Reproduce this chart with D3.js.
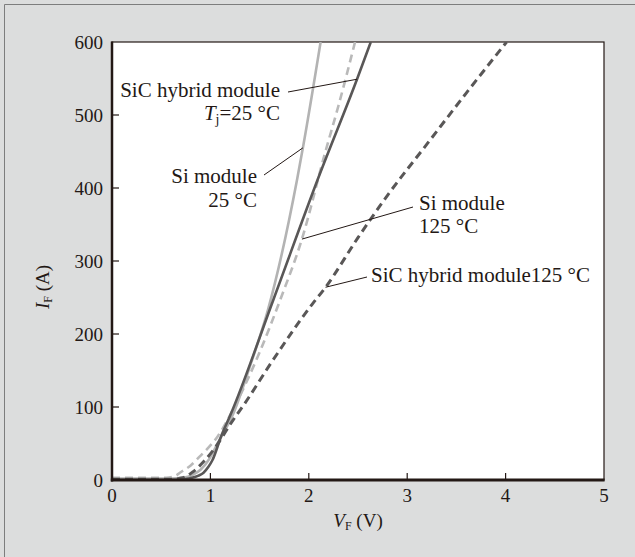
<!DOCTYPE html>
<html>
<head>
<meta charset="utf-8">
<script src="https://cdn.jsdelivr.net/npm/d3@7"></script>
<style>
  body { margin: 0; background: #dcdddd; }
  text { font-family: "Liberation Serif", "DejaVu Serif", serif; fill: #231815; }
</style>
</head>
<body>
<div id="chart"></div>
<script>
// forward characteristics, values (V, A)
var si25 = [[0,2],[0.6,2],[0.72,3],[0.82,7],[0.9,14],[0.98,27],[1.08,52],[1.23,90],[1.4,155],[1.585,233],[1.88,411],[1.94,455],[2.12,600]];
var si125 = [[0,3],[0.55,3],[0.65,6],[0.69,10],[0.8,20],[0.89,32],[1.07,59],[1.28,110],[1.5,175],[1.71,247],[1.93,330],[2.165,448],[2.3,512],[2.47,600]];
var sic25 = [[0,0],[0.65,0],[0.78,2],[0.88,6],[0.93,10],[0.98,18],[1.02,27],[1.115,62],[1.2,88],[1.64,247],[2.1,415],[2.49,549],[2.63,600]];
var sic125 = [[0,1],[0.6,1],[0.72,3],[0.82,11],[0.93,25],[1.03,41],[1.23,82],[1.35,105],[1.6,157],[2.03,240],[2.17,264],[2.5,332],[2.8,390],[3.2,460],[3.6,530],[4.01,600]];

var xTicks = [0, 1, 2, 3, 4, 5];
var yTicks = [0, 100, 200, 300, 400, 500, 600];

var width = 635, height = 557;

var svg = d3.select('#chart').append('svg')
    .attr('width', width)
    .attr('height', height);

// outer frame (top + left edges)
svg.append('path')
    .attr('d', 'M4.5,' + height + 'V4.5H' + width)
    .attr('fill', 'none')
    .attr('stroke', '#7d7d7d')
    .attr('stroke-width', 1);

var x = d3.scaleLinear().domain([0, 5]).range([112, 604]);
var y = d3.scaleLinear().domain([0, 600]).range([480, 42]);

svg.append('rect')
    .attr('x', x(0)).attr('y', y(600))
    .attr('width', x(5) - x(0)).attr('height', y(0) - y(600))
    .attr('fill', '#fff')
    .attr('stroke', '#231815')
    .attr('stroke-width', 1.2);

svg.append('clipPath').attr('id', 'clip')
    .append('rect')
    .attr('x', x(0)).attr('y', y(600))
    .attr('width', x(5) - x(0)).attr('height', y(0) - y(600));

// ticks inside
svg.selectAll('.xt').data(xTicks.slice(1, 5)).enter().append('line')
    .attr('x1', d => x(d)).attr('x2', d => x(d))
    .attr('y1', y(0)).attr('y2', y(0) - 7)
    .attr('stroke', '#231815').attr('stroke-width', 1.2);
svg.selectAll('.yt').data(yTicks.slice(1, 6)).enter().append('line')
    .attr('x1', x(0)).attr('x2', x(0) + 7)
    .attr('y1', d => y(d)).attr('y2', d => y(d))
    .attr('stroke', '#231815').attr('stroke-width', 1.2);

// tick labels
svg.selectAll('.xl').data(xTicks).enter().append('text')
    .attr('x', d => x(d)).attr('y', 502)
    .attr('text-anchor', 'middle')
    .style('font-size', '19px')
    .text(d => d);
svg.selectAll('.yl').data(yTicks).enter().append('text')
    .attr('x', 103).attr('y', d => y(d) + 6.5)
    .attr('text-anchor', 'end')
    .style('font-size', '19px')
    .text(d => d);

var line = d3.line()
    .x(d => x(d[0]))
    .y(d => y(d[1]))
    .curve(d3.curveMonotoneX);

var curves = svg.append('g').attr('clip-path', 'url(#clip)');
curves.append('path').datum(si125).attr('d', line)
    .attr('fill', 'none').attr('stroke', '#b9b9b9').attr('stroke-width', 2.6)
    .attr('stroke-dasharray', '8,5');
curves.append('path').datum(si25).attr('d', line)
    .attr('fill', 'none').attr('stroke', '#b3b3b3').attr('stroke-width', 2.6);
curves.append('path').datum(sic25).attr('d', line)
    .attr('fill', 'none').attr('stroke', '#595757').attr('stroke-width', 2.6);
curves.append('path').datum(sic125).attr('d', line)
    .attr('fill', 'none').attr('stroke', '#595757').attr('stroke-width', 3)
    .attr('stroke-dasharray', '8,5');

// thick left and bottom axes
svg.append('line')
    .attr('x1', x(0)).attr('x2', x(0))
    .attr('y1', y(600) - 0.6).attr('y2', y(0) + 1.5)
    .attr('stroke', '#231815').attr('stroke-width', 2.5);
svg.append('line')
    .attr('x1', x(0) - 1.2).attr('x2', x(5) + 0.6)
    .attr('y1', y(0)).attr('y2', y(0))
    .attr('stroke', '#231815').attr('stroke-width', 3);

// annotations
var ann = svg.append('g').style('font-size', '21px');

function leader(x1, y1, x2, y2) {
    svg.append('line')
        .attr('x1', x1).attr('y1', y1).attr('x2', x2).attr('y2', y2)
        .attr('stroke', '#231815').attr('stroke-width', 1);
}

ann.append('text').attr('x', 280).attr('y', 97).attr('text-anchor', 'end')
    .text('SiC hybrid module');
var tj = ann.append('text').attr('x', 280).attr('y', 120).attr('text-anchor', 'end');
tj.append('tspan').style('font-style', 'italic').text('T');
tj.append('tspan').attr('dy', 4).style('font-size', '14px').text('j');
tj.append('tspan').attr('dy', -4).text('=25 °C');
leader(288, 92, x(2.49), y(549));

ann.append('text').attr('x', 257).attr('y', 183).attr('text-anchor', 'end')
    .text('Si module');
ann.append('text').attr('x', 257).attr('y', 207).attr('text-anchor', 'end')
    .text('25 °C');
leader(264, 175, x(1.94), y(455));

ann.append('text').attr('x', 419).attr('y', 210).text('Si module');
ann.append('text').attr('x', 419).attr('y', 233).text('125 °C');
leader(413, 207, x(1.93), y(330));

ann.append('text').attr('x', 371).attr('y', 282).text('SiC hybrid module125 °C');
leader(367, 277, x(2.17), y(264));

// axis titles
var xt = svg.append('text').attr('x', 358).attr('y', 527)
    .attr('text-anchor', 'middle').style('font-size', '19px');
xt.append('tspan').style('font-style', 'italic').text('V');
xt.append('tspan').attr('dy', 3).style('font-size', '12px').text('F');
xt.append('tspan').attr('dy', -3).text(' (V)');

var yt = svg.append('text')
    .attr('transform', 'translate(49,287) rotate(-90)')
    .attr('text-anchor', 'middle').style('font-size', '19px');
yt.append('tspan').style('font-style', 'italic').text('I');
yt.append('tspan').attr('dy', 3).style('font-size', '12px').text('F');
yt.append('tspan').attr('dy', -3).text(' (A)');
</script>
</body>
</html>
